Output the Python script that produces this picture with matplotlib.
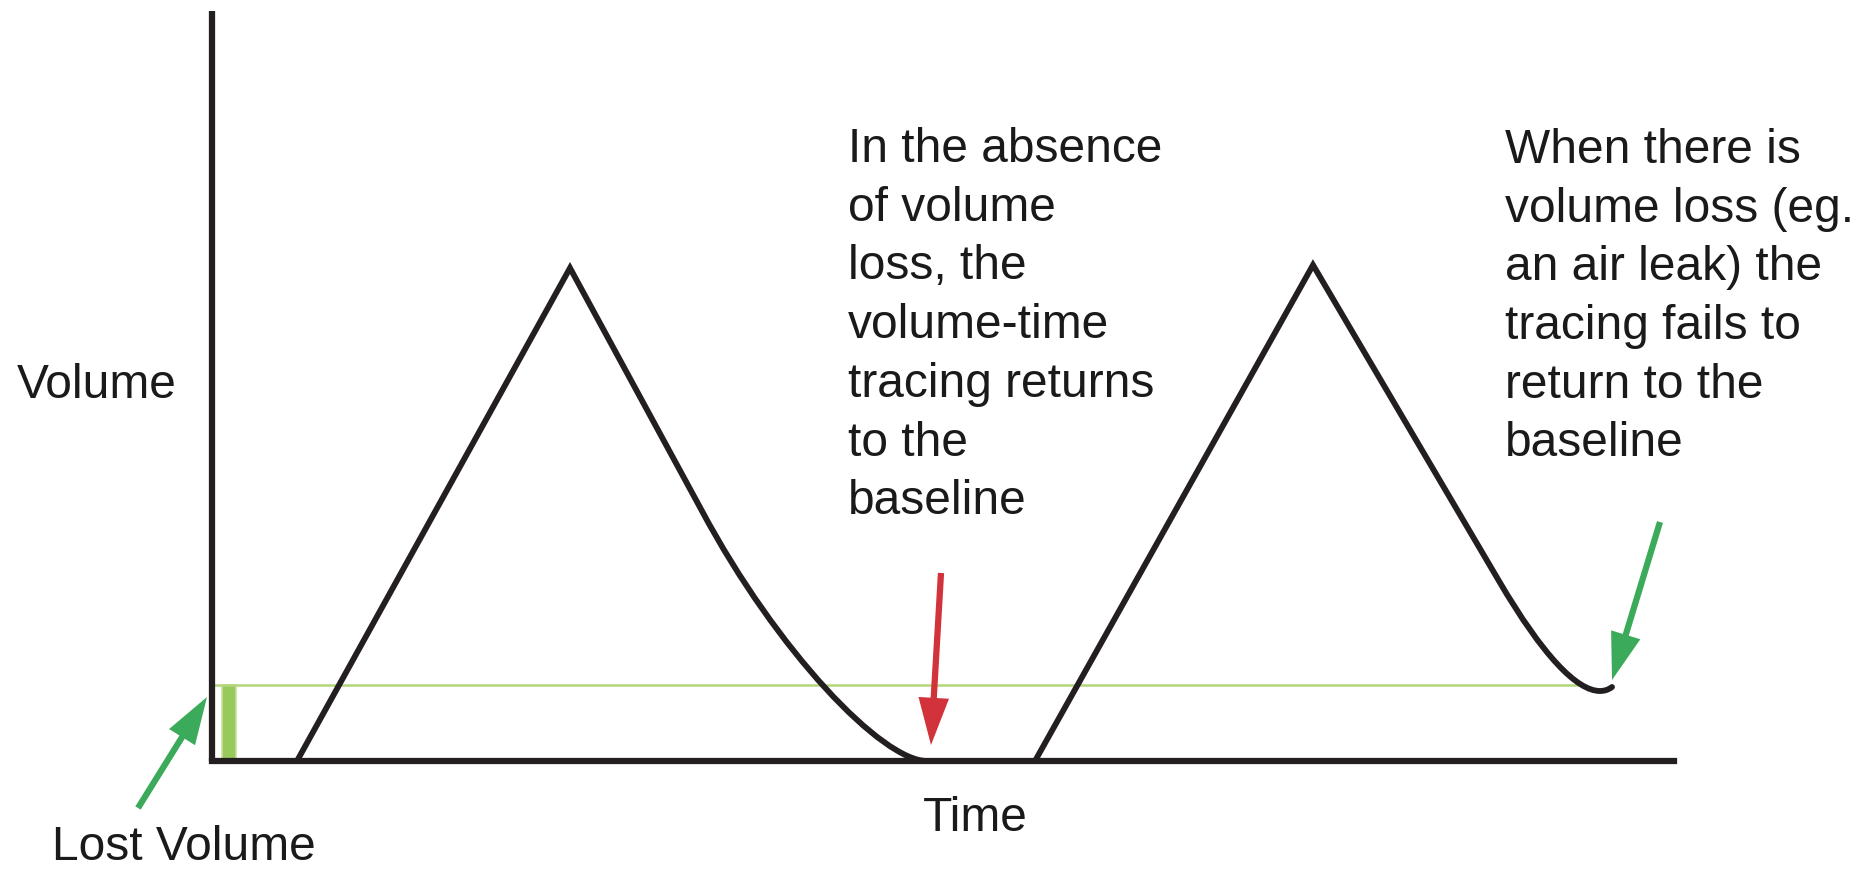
import matplotlib.pyplot as plt
from matplotlib.patches import FancyArrowPatch, Rectangle, PathPatch
from matplotlib.path import Path

plt.rcParams['font.family'] = ['Liberation Sans', 'DejaVu Sans']

# volume-time tracings (time, volume) in arbitrary units, baseline = 0
# onset, peak, start of the expiratory bend, bezier controls, end of expiration
t_breath1 = [0.85, 3.58, 4.90, 5.65, 6.70, 7.15]
v_breath1 = [0.00, 4.93, 2.50, 1.10, 0.00, 0.00]

# second breath ends above the baseline (leak), with a small upturn at the end
t_breath2 = [8.23, 11.01, 12.87, 13.31, 13.65, 13.88, 13.95, 14.00]
v_breath2 = [0.00, 4.96, 1.80, 1.05, 0.70, 0.70, 0.70, 0.74]

# end-expiratory level of the leaking breath
lost_volume = 0.76
t_leak_end = 13.68

# axis extents
t_axis_end = 14.62
v_axis_top = 7.50

txt_mid = ["In the absence", "of volume", "loss, the", "volume-time",
           "tracing returns", "to the", "baseline"]
txt_right = ["When there is", "volume loss (eg.", "an air leak) the",
             "tracing fails to", "return to the", "baseline"]

INK = '#231f20'
GREEN = '#3caa5b'
RED = '#d2323a'
LIGHT_GREEN = '#b3d67a'

fig = plt.figure(figsize=(18.75, 8.69), dpi=100, facecolor='white')
ax = fig.add_axes([0, 0, 1, 1])
ax.set_xlim(-2.12, 16.63)
ax.set_ylim(-1.08, 7.61)
ax.axis('off')

# lost volume band and level line
ax.add_patch(Rectangle((0.10, 0), 0.14, lost_volume, facecolor='#98c95b',
                       edgecolor='#c6e19c', lw=1.2, zorder=1))
ax.plot([0, t_leak_end], [lost_volume, lost_volume], color=LIGHT_GREEN, lw=1.8, zorder=1)

# axes
ax.plot([0, 0], [0, v_axis_top], color=INK, lw=4.5, solid_capstyle='butt', zorder=3)
ax.plot([0, t_axis_end], [0, 0], color=INK, lw=4.5, solid_capstyle='projecting', zorder=3)

# tracings: straight inspiration and early expiration, curved tail
codes1 = [Path.MOVETO, Path.LINETO, Path.LINETO, Path.CURVE4, Path.CURVE4, Path.CURVE4]
codes2 = codes1 + [Path.CURVE3, Path.CURVE3]
for t, v, codes in [(t_breath1, v_breath1, codes1), (t_breath2, v_breath2, codes2)]:
    ax.add_patch(PathPatch(Path(list(zip(t, v)), codes), facecolor='none',
                           edgecolor=INK, lw=4.2, joinstyle='miter',
                           capstyle='round', zorder=4))

# arrows
arrow_kw = dict(arrowstyle='simple,head_width=2.2,head_length=3.4,tail_width=0.45',
                mutation_scale=10, shrinkA=0, shrinkB=0, lw=0, zorder=5)
ax.add_patch(FancyArrowPatch((7.29, 1.88), (7.19, 0.16), color=RED, **arrow_kw))
ax.add_patch(FancyArrowPatch((14.48, 2.39), (14.00, 0.81), color=GREEN, **arrow_kw))
ax.add_patch(FancyArrowPatch((-0.74, -0.47), (-0.05, 0.64), color=GREEN, **arrow_kw))

# labels
fs = 34.5
ax.text(-1.95, 3.63, "Volume", fontsize=fs, color='#1a1a1a', ha='left', va='baseline')
ax.text(7.63, -0.70, "Time", fontsize=fs, color='#1a1a1a', ha='center', va='baseline')
ax.text(-1.60, -0.99, "Lost Volume", fontsize=fs, color='#1a1a1a', ha='left', va='baseline')

line_step = 0.587
for i, s in enumerate(txt_mid):
    ax.text(6.36, 5.99 - i * line_step, s, fontsize=fs, color='#1a1a1a',
            ha='left', va='baseline')
for i, s in enumerate(txt_right):
    ax.text(12.93, 5.98 - i * line_step, s, fontsize=fs, color='#1a1a1a',
            ha='left', va='baseline')

fig.savefig('out.png', dpi=100, facecolor='white')
